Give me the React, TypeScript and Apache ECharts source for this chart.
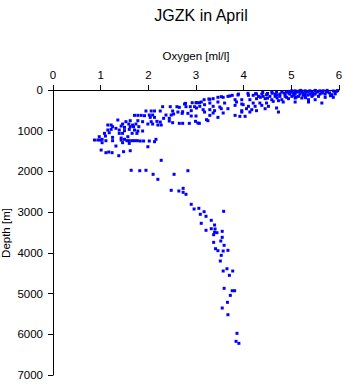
import React, { useEffect, useRef } from "react";
import * as echarts from "echarts";

// [oxygen ml/l, depth m]
const surfaceLayer: number[][] = [
  [5.01, 20], [5.08, 20], [5.18, 20], [5.29, 20], [5.39, 20], [5.5, 20], [5.6, 20], [5.67, 20], [5.88, 25], [5.95, 30],
  [4.59, 50], [4.69, 50], [4.8, 50], [4.9, 50], [5.01, 50], [5.11, 50], [5.22, 50], [5.32, 50], [5.43, 50], [5.53, 50], [5.64, 50], [5.74, 50], [5.92, 50],
  [4.38, 100], [4.66, 100], [4.76, 100], [4.87, 100], [4.97, 100], [5.08, 100], [5.18, 100], [5.29, 100], [5.39, 100], [5.5, 100], [5.6, 100], [5.71, 100], [4.48, 115], [5.85, 115],
  [4.31, 156], [4.41, 156], [4.55, 156], [4.66, 156], [4.76, 156], [4.87, 156], [5.01, 156], [5.15, 156], [5.29, 156], [5.43, 156], [5.57, 156], [4.1, 131], [4.2, 131], [5.71, 180], [5.88, 180],
  [3.89, 100], [3.76, 131], [3.67, 156], [3.57, 180], [3.46, 180], [3.36, 213], [3.27, 221], [3.17, 238], [3.82, 238], [3.96, 238], [4.13, 238], [4.27, 213], [4.45, 213], [4.59, 238], [4.8, 238], [4.94, 213], [5.08, 197], [5.22, 197], [5.36, 238], [5.5, 238],
  [4.62, 279], [4.73, 262], [4.09, 82], [4.27, 98], [3.88, 123], [3.71, 147], [3.53, 164], [3.29, 229],
  [4.95, 35], [5.05, 75], [5.15, 35], [5.25, 75], [5.35, 35], [5.45, 75], [5.55, 35], [5.65, 75], [5.75, 35], [5.8, 70],
  [5.45, 130], [5.35, 125], [5.25, 130], [5.05, 130], [4.95, 80], [4.85, 75], [4.7, 125], [4.6, 80], [5.5, 10], [5.2, 10],
  [5.75, 10], [5.97, 15], [5.82, 140], [5.92, 95], [4.4, 60], [4.5, 85], [4.25, 90], [4.35, 180], [4.5, 200], [4.7, 195], [4.9, 180], [5.1, 175], [5.3, 190],
];

const upperSlope: number[][] = [
  [3.01, 311], [3.11, 295], [3.29, 320], [3.46, 295], [3.6, 320], [3.85, 295], [3.96, 344], [4.2, 320], [4.34, 320], [4.48, 320], [4.83, 295], [5.08, 295], [5.36, 295], [5.64, 320],
  [3.08, 401], [3.18, 361], [3.36, 401], [3.5, 418], [3.82, 377], [3.99, 361], [4.1, 401], [4.24, 401], [4.38, 377], [4.52, 401], [4.69, 442],
  [3.01, 442], [3.15, 483], [3.29, 483], [3.39, 508], [3.53, 459], [3.67, 459], [3.96, 508], [4.06, 459], [4.17, 483], [4.27, 508], [4.45, 459],
  [3.18, 541], [3.36, 565], [3.57, 565], [3.96, 541], [4.13, 541], [4.73, 541],
  [3.82, 623], [3.92, 647], [4.03, 647], [3.29, 623], [3.46, 672],
  [3.22, 729], [3.25, 754], [3.04, 811],
  [2.92, 312], [3.0, 312], [3.07, 312], [2.78, 328], [2.76, 344],
  [2.3, 410], [2.46, 410], [2.6, 410], [2.79, 410], [2.88, 410], [2.97, 410], [2.65, 426],
  [1.95, 516], [2.06, 516], [2.13, 516], [2.25, 516], [2.51, 516], [2.62, 541], [2.72, 533], [2.9, 508],
  [2.53, 590], [2.71, 574], [2.83, 574],
  [1.71, 623], [1.78, 623], [1.85, 623], [1.92, 631], [2.02, 615], [2.09, 615], [2.37, 615], [2.48, 615], [3.0, 639], [2.9, 639],
  [2.04, 672], [2.13, 672], [2.32, 696], [2.44, 696],
  [1.36, 737], [1.53, 778], [1.62, 754], [1.78, 754], [1.88, 778], [2.06, 778], [2.18, 770], [2.25, 787], [2.44, 762], [2.51, 803], [2.65, 819], [2.72, 819], [2.86, 819], [2.99, 770], [3.07, 819],
];

const minimumZone: number[][] = [
  [1.22, 860], [1.46, 836], [1.59, 836], [1.67, 860], [1.74, 836], [1.99, 836], [2.09, 836], [2.2, 860], [2.27, 860], [1.15, 860],
  [1.25, 901], [1.43, 885], [1.5, 918], [1.62, 901], [1.69, 901], [1.8, 901],
  [1.15, 983], [1.22, 967], [1.32, 942], [1.39, 983], [1.5, 999], [1.6, 967], [1.71, 983], [1.78, 1008], [1.88, 1008],
  [1.08, 1065], [1.18, 1049], [1.39, 1065], [1.46, 1065], [1.66, 1065], [1.76, 1065],
  [0.97, 1147], [1.1, 1131], [1.25, 1163], [1.43, 1180], [1.57, 1147],
  [0.87, 1229], [0.94, 1229], [0.99, 1229], [1.03, 1212], [1.11, 1245], [1.25, 1245], [1.43, 1229], [1.5, 1212], [1.55, 1245], [1.6, 1245], [1.66, 1245], [1.71, 1245], [1.77, 1245], [1.83, 1253], [1.9, 1253], [2.02, 1253], [2.16, 1212], [2.13, 1270],
  [1.03, 1294], [1.46, 1294], [1.6, 1311],
  [1.32, 1376], [1.99, 1393],
  [1.01, 1475], [1.11, 1540], [1.17, 1524], [1.24, 1540], [1.48, 1515], [1.62, 1491],
];

const deepWater: number[][] = [
  [1.38, 1614], [2.27, 1727], [1.64, 1972], [1.82, 1982], [1.95, 1972], [2.1, 2071], [2.2, 2194], [2.54, 2071], [2.83, 1982],
  [2.48, 2464], [2.64, 2481], [2.73, 2415], [2.73, 2513], [2.79, 2562], [2.9, 2808], [2.96, 2923], [3.06, 2906], [3.09, 3053],
  [3.17, 2989], [3.21, 3102], [3.32, 3201], [3.11, 3274], [3.39, 3316], [3.21, 3446], [3.32, 3407], [3.4, 3414], [3.39, 3495],
  [3.58, 2980], [3.55, 3471], [3.44, 3505], [3.37, 3554], [3.55, 3619], [3.52, 3709], [3.59, 3815], [3.37, 3742], [3.41, 3898],
  [3.46, 3947], [3.57, 3955], [3.67, 3938], [3.53, 4061], [3.51, 4200], [3.57, 4446], [3.65, 4390], [3.77, 4446], [3.7, 4552],
  [3.59, 4871], [3.76, 4930], [3.81, 4930], [3.72, 5044], [3.66, 5215], [3.55, 5355], [3.67, 5519], [3.86, 5977], [3.84, 6173], [3.9, 6222],
];

const FONT = "'Liberation Sans', Arial, Helvetica, sans-serif";

export default function App() {
  const ref = useRef<HTMLDivElement>(null);
  useEffect(() => {
    const chart = echarts.init(ref.current!, null, { renderer: "svg" });
    const allPoints = [...surfaceLayer, ...upperSlope, ...minimumZone, ...deepWater];
    chart.setOption({
      animation: false,
      backgroundColor: "#ffffff",
      title: {
        text: "JGZK in April",
        left: 196,
        top: 2,
        textAlign: "center",
        textStyle: { fontFamily: FONT, fontSize: 16, fontWeight: "normal", color: "#000" },
      },
      graphic: [
        {
          type: "text",
          x: 6,
          y: 233,
          rotation: Math.PI / 2,
          style: {
            text: "Depth [m]",
            fontFamily: FONT,
            fontSize: 11.5,
            fill: "#000",
            align: "center",
            verticalAlign: "middle",
          },
        },
      ],
      grid: { left: 53, right: 6, top: 90, bottom: 9, containLabel: false, outerBoundsMode: "none" },
      xAxis: {
        type: "value",
        position: "top",
        min: 0,
        max: 6,
        interval: 1,
        name: "Oxygen [ml/l]",
        nameLocation: "middle",
        nameGap: 28,
        nameTextStyle: { fontFamily: FONT, fontSize: 11.5, color: "#000" },
        axisLine: { lineStyle: { color: "#000", width: 1 } },
        axisTick: { inside: false, length: 5, lineStyle: { color: "#000" } },
        axisLabel: { fontFamily: FONT, fontSize: 11.5, color: "#000", margin: 9, formatter: (v: number) => String(v) },
        splitLine: { show: false },
      },
      yAxis: {
        type: "value",
        inverse: true,
        min: 0,
        max: 7000,
        interval: 1000,
        axisLine: { lineStyle: { color: "#000", width: 1 } },
        axisTick: { inside: false, length: 5, lineStyle: { color: "#000" } },
        axisLabel: { fontFamily: FONT, fontSize: 11.5, color: "#000", margin: 10, formatter: (v: number) => String(v) },
        splitLine: { show: false },
      },
      series: [
        {
          type: "scatter",
          data: allPoints,
          symbol: "rect",
          symbolSize: 3,
          itemStyle: { color: "#0000ff", opacity: 1 },
        },
      ],
    });
    return () => chart.dispose();
  }, []);
  return <div ref={ref} style={{ position: "fixed", left: 0, top: 0, width: 345, height: 384 }} />;
}
